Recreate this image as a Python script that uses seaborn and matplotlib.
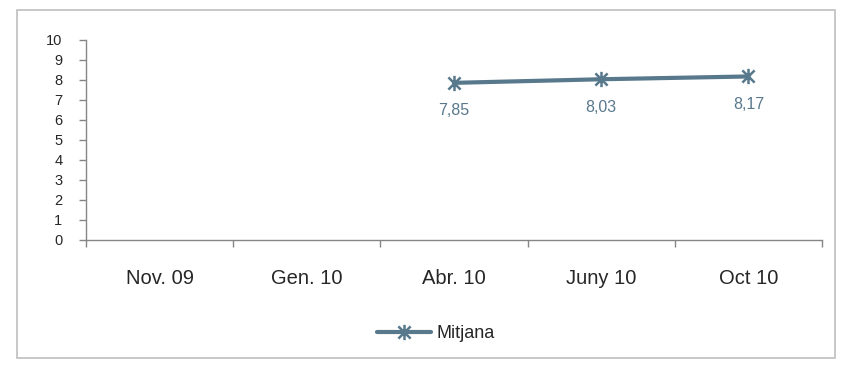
import numpy as np
import pandas as pd
import matplotlib.pyplot as plt
import seaborn as sns
from matplotlib.patches import Rectangle
from matplotlib.path import Path

periods = ['Nov. 09', 'Gen. 10', 'Abr. 10', 'Juny 10', 'Oct 10']
mitjana = [np.nan, np.nan, 7.85, 8.03, 8.17]
y_ticks = list(range(0, 11))

df = pd.DataFrame({'pos': np.arange(len(periods)), 'Mitjana': mitjana})

sns.set_style('white')
plt.rcParams['font.family'] = ['Liberation Sans', 'DejaVu Sans']

# asterisk marker: vertical stroke + two diagonals
star = Path([(0, -1), (0, 1), (-0.8, -0.8), (0.8, 0.8), (-0.8, 0.8), (0.8, -0.8)],
            [Path.MOVETO, Path.LINETO, Path.MOVETO, Path.LINETO, Path.MOVETO, Path.LINETO])

color = '#58788C'
fig = plt.figure(figsize=(8.51, 3.69), dpi=100)
ax = fig.add_axes([0.101, 0.350, 0.865, 0.542])

sns.lineplot(data=df.dropna(), x='pos', y='Mitjana', ax=ax, color=color, lw=3,
             marker=star, markersize=11, markeredgewidth=1.8,
             markeredgecolor=color, markerfacecolor='none', label='Mitjana', legend=False)

for x, v in zip(df['pos'], df['Mitjana']):
    if not np.isnan(v):
        ax.annotate(f'{v:.2f}'.replace('.', ','), (x, v), xytext=(0, -20),
                    textcoords='offset points', ha='center', va='center',
                    fontsize=11.5, color=color)

ax.set_xlim(-0.5, len(periods) - 0.5)
ax.set_ylim(0, 10)
ax.set_xticks(df['pos'])
ax.set_xticklabels(periods, fontsize=14.5)
ax.set_xticks(np.arange(-0.5, len(periods)), minor=True)
ax.tick_params(axis='x', which='major', bottom=True, length=0, pad=21)
ax.tick_params(axis='x', which='minor', bottom=True, length=5, color='#868686', width=1)
ax.set_yticks(y_ticks)
ax.tick_params(axis='y', left=True, length=5, color='#868686', width=1, labelsize=10.5, pad=12)
ax.set_xlabel('')
ax.set_ylabel('')
for s in ['top', 'right']:
    ax.spines[s].set_visible(False)
for s in ['left', 'bottom']:
    ax.spines[s].set_color('#868686')
    ax.spines[s].set_linewidth(1)

handles, labels = ax.get_legend_handles_labels()
fig.legend(handles, labels, loc='center', bbox_to_anchor=(0.512, 0.095),
           frameon=False, fontsize=13, handlelength=3.0, handletextpad=0.28)

fig.add_artist(Rectangle((17 / 851, 1 - 358 / 369), (835 - 17) / 851, (358 - 10) / 369,
                         transform=fig.transFigure, fill=False, edgecolor='#BFBFBF', lw=1.2))

fig.savefig('out.png', dpi=100)
